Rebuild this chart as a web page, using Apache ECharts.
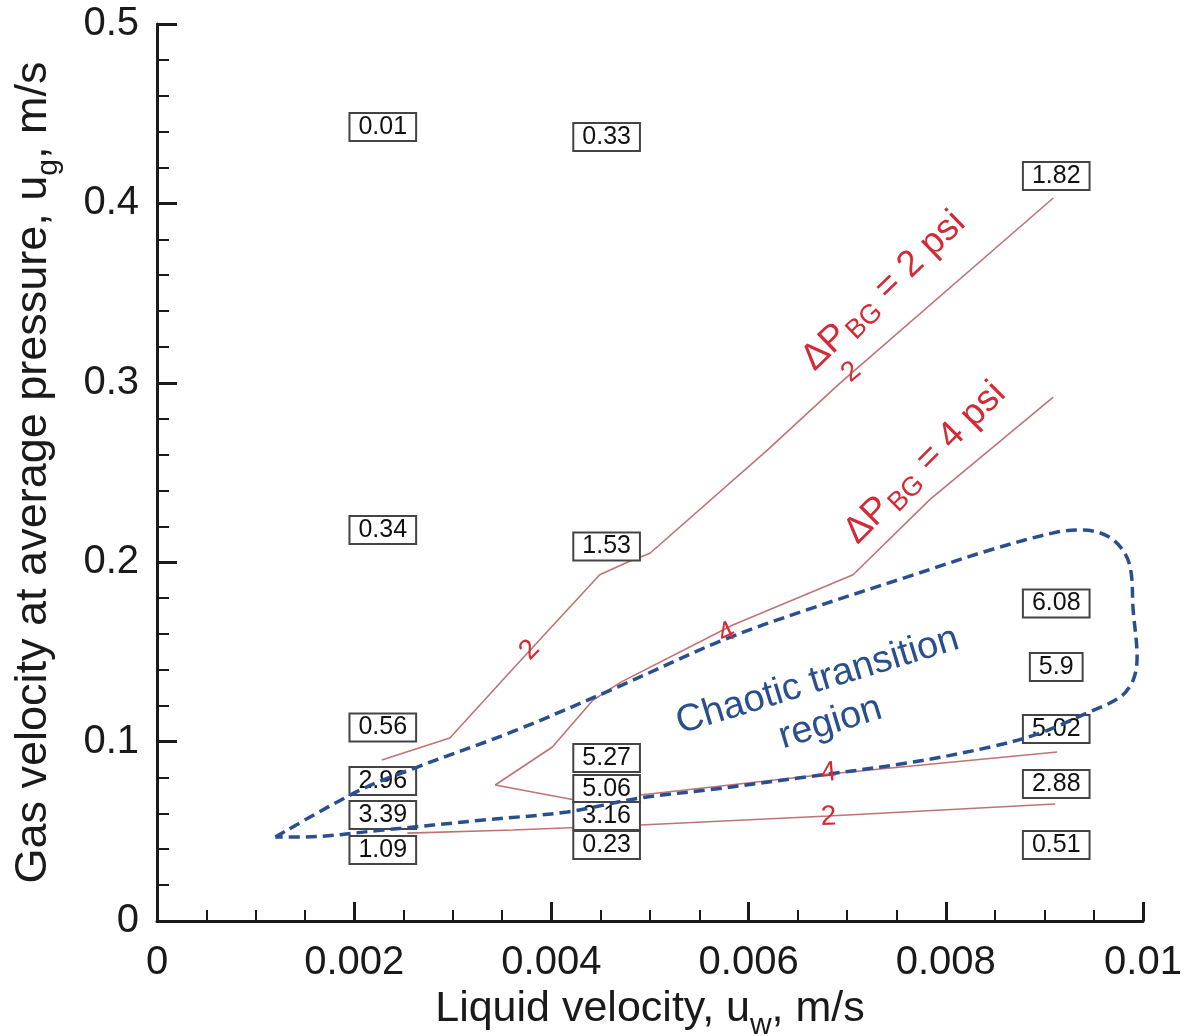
<!DOCTYPE html>
<html><head><meta charset="utf-8">
<script src="https://cdn.jsdelivr.net/npm/echarts@6/dist/echarts.min.js"></script>
<style>html,body{margin:0;padding:0;background:#fff}#c{width:1196px;height:1036px}</style>
</head><body><div id="c"></div>
<script>
// ---- data ----
const xTicks = [0, 0.002, 0.004, 0.006, 0.008, 0.01];
const yTicks = [0, 0.1, 0.2, 0.3, 0.4, 0.5];

// ΔP_BG = 2 psi contour, upper branch
const dp2UpperX = [0.00228, 0.00297, 0.00365, 0.00449, 0.00477, 0.00500, 0.00619, 0.00693, 0.00909];
const dp2UpperY = [0.0897, 0.102, 0.143, 0.193, 0.200, 0.205, 0.2625, 0.300, 0.403];
// ΔP_BG = 2 psi contour, lower branch
const dp2LowerX = [0.00254, 0.00361, 0.00490, 0.00681, 0.00911];
const dp2LowerY = [0.049, 0.0507, 0.0535, 0.0585, 0.0652];
// ΔP_BG = 4 psi contour (V-shaped)
const dp4X = [0.00909, 0.00784, 0.00706, 0.00584, 0.00470, 0.00442, 0.00401, 0.00343, 0.00424, 0.00490, 0.00681, 0.00913];
const dp4Y = [0.292, 0.235, 0.193, 0.165, 0.133, 0.123, 0.097, 0.0758, 0.0674, 0.0702, 0.0819, 0.0942];

// Chaotic transition region boundary
const chaoticX = [0.00120, 0.00206, 0.00264, 0.00365, 0.00467, 0.00574, 0.00659, 0.00761, 0.00845, 0.00913, 0.00939, 0.00970, 0.00987, 0.00990, 0.00994, 0.00990, 0.00977, 0.00943, 0.00896, 0.00845, 0.00761, 0.00659, 0.00558, 0.00490, 0.00416, 0.00331, 0.00229, 0.00145, 0.00120];
const chaoticY = [0.0468, 0.0730, 0.0858, 0.1065, 0.1304, 0.1566, 0.1734, 0.1918, 0.2068, 0.2168, 0.2179, 0.2124, 0.1973, 0.1734, 0.1472, 0.1343, 0.1249, 0.1159, 0.1048, 0.0970, 0.0881, 0.0803, 0.0730, 0.0686, 0.0608, 0.0563, 0.0507, 0.0468, 0.0468];

// Boxed measurement values
const boxX = [0.00229, 0.00229, 0.00229, 0.00229, 0.00229, 0.00229,
              0.00456, 0.00456, 0.00456, 0.00456, 0.00456, 0.00456,
              0.00912, 0.00912, 0.00912, 0.00912, 0.00912, 0.00912];
const boxY = [0.4426, 0.218, 0.1079, 0.078, 0.0591, 0.0396,
              0.437, 0.2088, 0.0909, 0.0736, 0.0585, 0.0424,
              0.4153, 0.177, 0.1416, 0.107, 0.0764, 0.0424];
const boxValue = ['0.01', '0.34', '0.56', '2.96', '3.39', '1.09',
                  '0.33', '1.53', '5.27', '5.06', '3.16', '0.23',
                  '1.82', '6.08', '5.9', '5.02', '2.88', '0.51'];

// Text annotations (anchor in data coordinates)
const regionText = 'Chaotic transition\nregion';
const regionAt = [0.006765, 0.1221];
const dpLabelText = ['{a|ΔP}{s|BG}{a| = 2 psi}', '{a|ΔP}{s|BG}{a| = 4 psi}'];
const dpLabelX = [0.00738, 0.00780];
const dpLabelY = [0.3506, 0.2548];
const contourLabelText = ['2', '2', '4', '4', '2'];
const contourLabelX = [0.00378, 0.00704, 0.00578, 0.00681, 0.00681];
const contourLabelY = [0.151, 0.306, 0.1605, 0.0825, 0.058];

// ---- styles ----
const FONT = '"Liberation Sans", Arial, Helvetica, sans-serif';
const RED_LINE = '#bf7474';
const RED_TEXT = '#d42a36';
const BLUE = '#2a4f8e';
const contourRot = [46, 40, 25, 5, 2];
const dpRot = [44, 45];

const zip = (xs, ys) => xs.map((x, i) => [x, ys[i]]);

const redLine = (name, xs, ys) => ({
  name, type: 'line', data: zip(xs, ys), showSymbol: false, symbol: 'none',
  lineStyle: { color: RED_LINE, width: 1.6 }, z: 1, silent: true
});

const hiddenItem = { color: 'rgba(0,0,0,0)', opacity: 1 };

const chart = echarts.init(document.getElementById('c'), null, { renderer: 'canvas' });
chart.setOption({
  animation: false,
  backgroundColor: '#fff',
  grid: { left: 157, right: 53, top: 24, bottom: 115, containLabel: false, outerBoundsMode: 'none' },
  xAxis: {
    type: 'value', min: xTicks[0], max: xTicks[xTicks.length - 1], interval: 0.002,
    name: '{t|Liquid velocity, u}{s|w}{t|, m/s}',
    nameLocation: 'middle', nameGap: 64,
    nameTextStyle: {
      rich: {
        t: { fontFamily: FONT, fontSize: 43, color: '#1a1a1a', lineHeight: 50, verticalAlign: 'top' },
        s: { fontFamily: FONT, fontSize: 30, color: '#1a1a1a', lineHeight: 30, padding: [23, 0, 0, 0], verticalAlign: 'top' }
      }
    },
    axisLine: { show: true, lineStyle: { color: '#1a1a1a', width: 3 } },
    axisTick: { show: true, inside: true, length: 19, lineStyle: { color: '#1a1a1a', width: 3 } },
    minorTick: { show: true, splitNumber: 4, length: 11, lineStyle: { color: '#1a1a1a', width: 2 } },
    splitLine: { show: false },
    axisLabel: {
      fontFamily: FONT, fontSize: 40, color: '#1a1a1a', margin: 22,
      formatter: v => { const t = xTicks.find(k => Math.abs(k - v) < 1e-9); return t === undefined ? '' : String(t); }
    }
  },
  yAxis: {
    type: 'value', min: yTicks[0], max: yTicks[yTicks.length - 1], interval: 0.1,
    name: '{t|Gas velocity at average pressure, u}{s|g}{t|, m/s}',
    nameLocation: 'middle', nameGap: 96,
    nameTextStyle: {
      rich: {
        t: { fontFamily: FONT, fontSize: 45, color: '#1a1a1a', lineHeight: 50, verticalAlign: 'top' },
        s: { fontFamily: FONT, fontSize: 30, color: '#1a1a1a', lineHeight: 30, padding: [23, 0, 0, 0], verticalAlign: 'top' }
      }
    },
    axisLine: { show: true, lineStyle: { color: '#1a1a1a', width: 3 } },
    axisTick: { show: true, inside: true, length: 20, lineStyle: { color: '#1a1a1a', width: 3 } },
    minorTick: { show: true, splitNumber: 5, length: 12, lineStyle: { color: '#1a1a1a', width: 2 } },
    splitLine: { show: false },
    axisLabel: {
      fontFamily: FONT, fontSize: 40, color: '#1a1a1a', margin: 18,
      formatter: v => { const t = yTicks.find(k => Math.abs(k - v) < 1e-9); return t === undefined ? '' : String(t); }
    }
  },
  series: [
    redLine('dP2 upper', dp2UpperX, dp2UpperY),
    redLine('dP2 lower', dp2LowerX, dp2LowerY),
    redLine('dP4', dp4X, dp4Y),
    {
      name: 'values', type: 'scatter', z: 2, silent: true,
      symbolSize: 1, itemStyle: hiddenItem,
      data: boxX.map((x, i) => ({ value: [x, boxY[i]], name: boxValue[i] })),
      label: {
        show: true, position: 'inside', formatter: p => p.name,
        fontFamily: FONT, fontSize: 25, color: '#111', lineHeight: 25,
        backgroundColor: '#fff', borderColor: '#444', borderWidth: 2,
        padding: [1, 8, 0, 8], textBorderWidth: 0
      },
      emphasis: { disabled: true }
    },
    {
      name: 'chaotic', type: 'line', z: 3, silent: true,
      data: zip(chaoticX, chaoticY), showSymbol: false, symbol: 'none', smooth: 0.35,
      lineStyle: { color: BLUE, width: 3.5, type: [11, 6] }
    },
    {
      name: 'annotations', type: 'scatter', z: 4, silent: true,
      symbolSize: 1, itemStyle: hiddenItem,
      emphasis: { disabled: true },
      data: [
        { value: regionAt, label: { show: true, position: 'inside', formatter: regionText, rotate: 17,
            fontFamily: FONT, fontSize: 38, lineHeight: 44, color: BLUE, align: 'center', textBorderWidth: 0 } },
        ...dpLabelText.map((t, i) => ({ value: [dpLabelX[i], dpLabelY[i]], label: {
            show: true, position: 'inside', formatter: t, rotate: dpRot[i], textBorderWidth: 0,
            rich: {
              a: { fontFamily: FONT, fontSize: 37, color: RED_TEXT, lineHeight: 40, verticalAlign: 'top' },
              s: { fontFamily: FONT, fontSize: 27, color: RED_TEXT, lineHeight: 27, padding: [14, 1, 0, 2], verticalAlign: 'top' }
            } } })),
        ...contourLabelText.map((t, i) => ({ value: [contourLabelX[i], contourLabelY[i]], label: {
            show: true, position: 'inside', formatter: t, rotate: contourRot[i], textBorderWidth: 0,
            fontFamily: FONT, fontSize: 28, color: RED_TEXT } }))
      ]
    }
  ]
});
</script></body></html>
